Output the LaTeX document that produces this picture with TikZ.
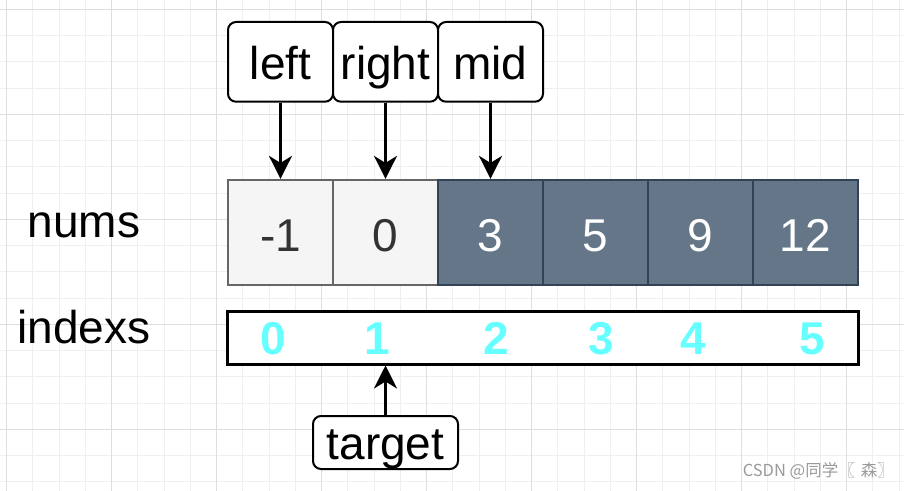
\documentclass[tikz,border=0pt]{standalone}
\usepackage{fontspec}
\setmainfont{Liberation Sans}
\newfontfamily\cjkfont{Noto Sans CJK SC}
\usetikzlibrary{arrows.meta}
\definecolor{gridminor}{HTML}{EFEFEF}
\definecolor{gridmajor}{HTML}{DEDEDE}
\definecolor{lightfill}{HTML}{F5F5F5}
\definecolor{lightstroke}{HTML}{666666}
\definecolor{lighttext}{HTML}{333333}
\definecolor{darkfill}{HTML}{647687}
\definecolor{darkstroke}{HTML}{314354}
\definecolor{idxcyan}{HTML}{66FFFF}
\definecolor{wmgray}{HTML}{9A9A9A}
\tikzset{
  big/.style={font=\fontsize{46bp}{50bp}\selectfont},
  lightcell/.style={big, draw=lightstroke, fill=lightfill, text=lighttext, line width=2.2bp,
    minimum width=105bp, minimum height=105bp, inner sep=0pt, text height=39bp, text depth=0bp},
  darkcell/.style={big, draw=darkstroke, fill=darkfill, text=white, line width=2.2bp,
    minimum width=105bp, minimum height=105bp, inner sep=0pt, text height=39bp, text depth=0bp},
  ptrbox/.style={big, draw=black, fill=white, line width=2bp, rounded corners=8bp,
    minimum width=105bp, minimum height=79.7bp, inner sep=0pt, text height=35.3bp, text depth=0bp},
  idxnum/.style={font=\fontsize{46bp}{50bp}\selectfont\bfseries, text=idxcyan, anchor=base, inner sep=0pt},
  rowlabel/.style={big, anchor=base, inner sep=0pt},
  ptr/.style={line width=2.5bp, -{Stealth[length=23bp,width=23bp,inset=7bp]}},
  minorline/.style={gridminor, line width=1bp},
  majorline/.style={gridmajor, line width=1bp}
}
\begin{document}
\begin{tikzpicture}[x=1bp,y=-1bp]
\useasboundingbox (0,0) rectangle (904,491);
\fill[white] (0,0) rectangle (904,491);
% grid
\foreach \i in {0,...,34} { \draw[minorline] ({6.5+26.25*\i},0) -- ({6.5+26.25*\i},491); }
\foreach \i in {0,...,18} { \draw[minorline] (0,{9.3+26.25*\i}) -- (904,{9.3+26.25*\i}); }
\foreach \i in {0,...,8} { \draw[majorline] ({6.5+105*\i},0) -- ({6.5+105*\i},491); }
\foreach \i in {0,...,4} { \draw[majorline] (0,{9.3+105*\i}) -- (904,{9.3+105*\i}); }
% array cells
\node[lightcell] (c0) at (280.5,232.5) {-1};
\node[lightcell] (c1) at (385.5,232.5) {0};
\node[darkcell]  (c2) at (490.5,232.5) {3};
\node[darkcell]  (c3) at (595.5,232.5) {5};
\node[darkcell]  (c4) at (700.5,232.5) {9};
\node[darkcell]  (c5) at (805.5,232.5) {12};
% index box
\node[draw=black, fill=white, line width=3bp, minimum width=630bp, minimum height=52bp, inner sep=0pt] (idx) at (543,338) {};
\node[idxnum] (i0) at (273.5,355) {0};
\node[idxnum] (i1) at (377.5,355) {1};
\node[idxnum] (i2) at (496,355) {2};
\node[idxnum] (i3) at (601.5,355) {3};
\node[idxnum] (i4) at (693,355) {4};
\node[idxnum] (i5) at (812.5,355) {5};
% row labels
\node[rowlabel] (nums) at (84,237.7) {nums};
\node[rowlabel] (indexs) at (84,343.3) {indexs};
% pointer boxes
\node[ptrbox] (left) at (280.5,61.85) {left};
\node[ptrbox] (right) at (385.5,61.85) {right};
\node[ptrbox] (mid) at (490.5,61.85) {mid};
\node[ptrbox, minimum width=145bp, minimum height=53bp, text height=33bp] (target) at (385.5,442.5) {target};
% arrows
\draw[ptr] (left.south) -- (c0.north);
\draw[ptr] (right.south) -- (c1.north);
\draw[ptr] (mid.south) -- (c2.north);
\draw[ptr] (target.north) -- (target.north |- idx.south);
% watermark
\node[text=wmgray, font=\cjkfont\fontsize{16.5bp}{18bp}\selectfont, anchor=base east, inner sep=0pt] (wm) at (894,476) {CSDN @同学〖\hspace{6bp}森〗};
\end{tikzpicture}
\end{document}
